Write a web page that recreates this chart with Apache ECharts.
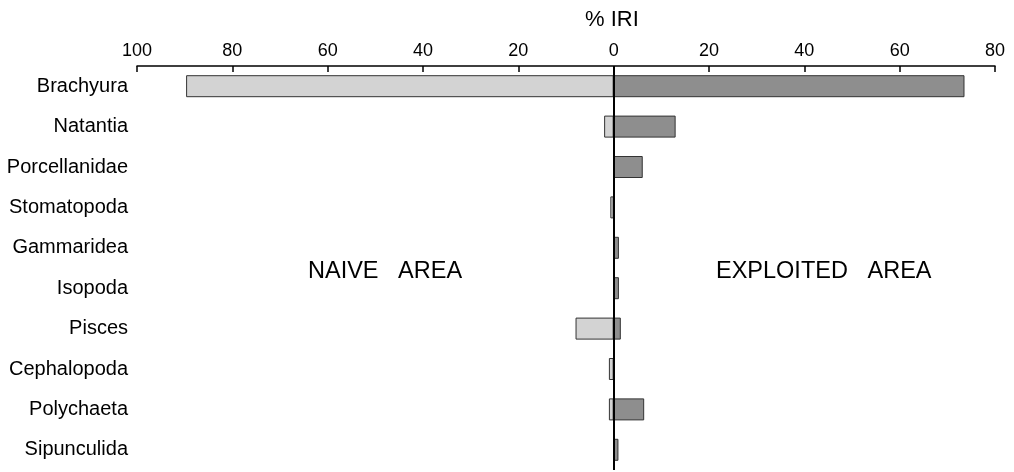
<!DOCTYPE html>
<html>
<head>
<meta charset="utf-8">
<script src="https://cdn.jsdelivr.net/npm/echarts@6/dist/echarts.min.js"></script>
<style>
html,body{margin:0;padding:0;background:#fff;}
#chart{width:1014px;height:472px;}
</style>
</head>
<body>
<div id="chart"></div>
<script>
const categories = ['Brachyura','Natantia','Porcellanidae','Stomatopoda','Gammaridea','Isopoda','Pisces','Cephalopoda','Polychaeta','Sipunculida'];
const naiveArea = [89.7, 2.0, 0, 0.7, 0, 0, 8.0, 1.0, 1.0, 0];
const exploitedArea = [73.6, 13.0, 6.1, 0, 1.1, 1.1, 1.5, 0, 6.4, 1.0];
const axisMin = -100, axisMax = 80, axisStep = 20;

const chart = echarts.init(document.getElementById('chart'));
const font = 'Liberation Sans, Arial, sans-serif';
chart.setOption({
  animation: false,
  backgroundColor: '#fff',
  grid: { left: 137, right: 19, top: 66, bottom: 2, containLabel: false },
  xAxis: {
    type: 'value', position: 'top', min: axisMin, max: axisMax, interval: axisStep,
    axisLine: { show: true, lineStyle: { color: '#000', width: 1.5 } },
    axisTick: { show: true, inside: true, length: 6, lineStyle: { color: '#000', width: 1.5 } },
    axisLabel: { color: '#000', fontFamily: font, fontSize: 18, margin: 6,
      formatter: v => String(Math.abs(v)) },
    splitLine: { show: false }
  },
  yAxis: {
    type: 'category', data: categories, inverse: true,
    axisLine: { show: false }, axisTick: { show: false },
    axisLabel: { color: '#000', fontFamily: font, fontSize: 20, margin: 9 }
  },
  series: [
    {
      name: 'Naive area', type: 'bar', barWidth: 22, barGap: '-100%',
      data: naiveArea.map(v => -v),
      itemStyle: { color: '#d3d3d3', borderColor: '#333', borderWidth: 1 },
      markLine: {
        silent: true, symbol: 'none', label: { show: false },
        lineStyle: { color: '#000', width: 2, type: 'solid' },
        data: [{ xAxis: 0 }]
      },
      z: 2
    },
    {
      name: 'Exploited area', type: 'bar', barWidth: 22, barGap: '-100%',
      data: exploitedArea,
      itemStyle: { color: '#8e8e8e', borderColor: '#333', borderWidth: 1 },
      z: 2
    }
  ],
  graphic: [
    { type: 'text', left: 585, top: 9, style: { text: '% IRI', fontFamily: font, fontSize: 22, fill: '#000' } },
    { type: 'text', left: 308, top: 260, style: { text: 'NAIVE   AREA', fontFamily: font, fontSize: 23.5, fill: '#000' } },
    { type: 'text', left: 716, top: 260, style: { text: 'EXPLOITED   AREA', fontFamily: font, fontSize: 23.5, fill: '#000' } }
  ]
});
</script>
</body>
</html>
